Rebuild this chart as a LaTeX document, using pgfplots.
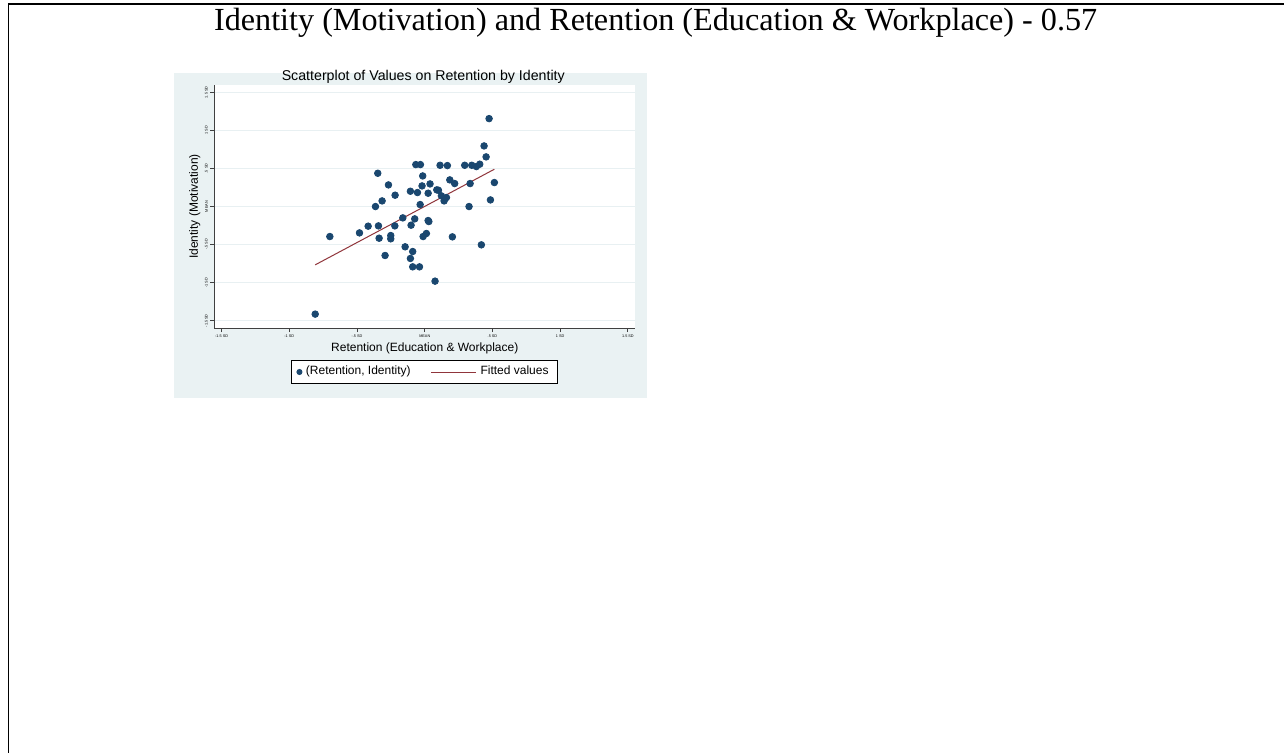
\documentclass[border=0pt]{standalone}
\usepackage{fontspec}
\setmainfont{Liberation Sans}
\newfontfamily\seriffont{Liberation Serif}
\usepackage{pgfplots}
\pgfplotsset{compat=1.18}
\definecolor{stnavy}{RGB}{26,71,111}
\definecolor{stmaroon}{RGB}{144,53,59}
\definecolor{stbg}{RGB}{234,242,243}
\definecolor{stgrid}{RGB}{232,240,242}
\pgfplotsset{
  dotlegend/.style={legend image code/.code={\draw[##1, mark size=1.25pt] plot coordinates {(2.5pt,0pt)};}},
  linelegend/.style={legend image code/.code={\draw[##1] (0pt,0pt) -- (22.5pt,0pt);}},
}
\begin{document}
\begin{tikzpicture}[x=0.5pt,y=0.5pt]
\path[fill=white] (0,0) rectangle (1285,-753);
\draw[line width=0.75pt] (8.7,-753) -- (8.7,-4.2) -- (1285,-4.2);
\node[font=\seriffont\fontsize{16.1}{18}\selectfont, anchor=base, inner sep=0pt] at (656,-31) {Identity (Motivation) and Retention (Education \& Workplace) - 0.57};
\fill[stbg] (174,-73) rectangle (647,-398);
\node[font=\fontsize{7.1}{8}\selectfont, anchor=base, inner sep=0pt] at (423.5,-81) {Scatterplot of Values on Retention by Identity};
\begin{axis}[
  at={(107.15pt,-164.15pt)}, anchor=south west,
  scale only axis, width=210.7pt, height=121.65pt,
  xmin=-1.555, xmax=1.555, ymin=-1.597, ymax=1.597,
  axis background/.style={fill=white},
  axis x line*=bottom, axis y line*=left,
  axis line style={draw=black!75, line width=0.5pt},
  tick align=outside, major tick length=2pt,
  tick style={draw=black!75, line width=0.4pt},
  xtick={-1.5,-1,-0.5,0,0.5,1,1.5},
  xticklabels={-1.5 SD,-1 SD,-.5 SD,MEAN,.5 SD,1 SD,1.5 SD},
  ytick={-1.5,-1,-0.5,0,0.5,1,1.5},
  yticklabels={-1.5 SD,-1 SD,-.5 SD,MEAN,.5 SD,1 SD,1.5 SD},
  xticklabel style={font=\fontsize{1.9}{2}\selectfont, inner sep=1pt},
  yticklabel style={font=\fontsize{1.9}{2}\selectfont, rotate=90, anchor=south, inner sep=1pt},
  ymajorgrids, grid style={draw=stgrid, line width=0.5pt},
  xlabel={Retention (Education \& Workplace)},
  ylabel={Identity (Motivation)},
  label style={font=\fontsize{6}{7}\selectfont},
  xlabel style={at={(axis description cs:0.5,-0.082)}, anchor=center, inner sep=0pt},
  ylabel style={at={(axis description cs:-0.0458,0.5)}, anchor=center, inner sep=0pt},
  legend columns=2,
  legend cell align=left,
  legend style={at={(axis description cs:0.5,-0.133)}, anchor=north,
    draw=black, line width=0.5pt, fill=white,
    font=\fontsize{6}{7}\selectfont, inner xsep=2.5pt, inner ysep=0.6pt,
    /tikz/every even column/.append style={column sep=8pt}},
]
\addplot[only marks, mark=*, mark size=1.65pt, color=stnavy, dotlegend]
coordinates {
(0.475,1.155) (0.438,0.796) (0.453,0.652) (-0.066,0.551) (-0.032,0.551)
(0.113,0.542) (0.167,0.538) (0.295,0.542) (0.347,0.542) (0.381,0.525)
(0.406,0.556) (-0.347,0.437) (-0.015,0.402) (0.185,0.350) (0.221,0.302)
(0.335,0.302) (0.514,0.315) (-0.268,0.284) (-0.020,0.271) (0.039,0.297)
(-0.106,0.201) (-0.054,0.184) (0.025,0.175) (0.089,0.219) (0.101,0.214)
(-0.219,0.149) (0.123,0.140) (0.160,0.118) (0.143,0.074) (0.485,0.087)
(-0.315,0.074) (-0.364,0.000) (-0.034,0.026) (0.327,0.000) (-0.162,-0.149)
(-0.074,-0.162) (0.025,-0.184) (0.030,-0.197) (-0.418,-0.258) (-0.342,-0.254)
(-0.221,-0.254) (-0.101,-0.245) (-0.482,-0.346) (-0.701,-0.394) (-0.337,-0.416)
(-0.251,-0.381) (-0.251,-0.424) (-0.012,-0.394) (0.012,-0.354) (0.204,-0.398)
(-0.145,-0.529) (-0.089,-0.591) (0.418,-0.503) (-0.293,-0.643) (-0.106,-0.682)
(-0.089,-0.792) (-0.039,-0.792) (0.076,-0.980) (-0.809,-1.413)
};
\addlegendentry{(Retention, Identity)}
\addplot[no marks, color=stmaroon, line width=0.5pt, linelegend]
coordinates {(-0.809,-0.766) (0.514,0.490)};
\addlegendentry{Fitted values}
\end{axis}
\end{tikzpicture}
\end{document}
